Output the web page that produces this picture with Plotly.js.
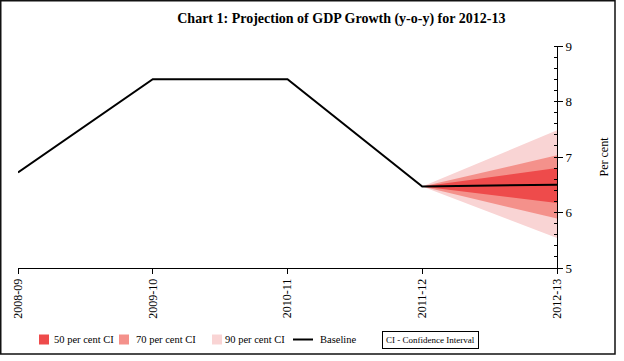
<!DOCTYPE html>
<html>
<head>
<meta charset="utf-8">
<script src="https://cdn.plot.ly/plotly-3.0.1.min.js"></script>
<style>
  html, body { margin: 0; padding: 0; background: #fff; }
  #chart { width: 624px; height: 361px; }
</style>
</head>
<body>
<div id="chart"></div>
<script>
// ---- data ----
var categories = ['2008-09', '2009-10', '2010-11', '2011-12', '2012-13'];
var baseline = [6.72, 8.4, 8.4, 6.47, 6.5];

var fanX = ['2011-12', '2012-13'];
var ci90Upper = [6.47, 7.48];
var ci90Lower = [6.47, 5.54];
var ci70Upper = [6.47, 7.03];
var ci70Lower = [6.47, 5.89];
var ci50Upper = [6.47, 6.80];
var ci50Lower = [6.47, 6.17];

var yTickVals = [5, 6, 7, 8, 9];
var legendLabels = ['50 per cent CI', '70 per cent CI', '90 per cent CI', 'Baseline'];
var noteText = 'CI - Confidence Interval';
var titleText = 'Chart 1: Projection of GDP Growth (y-o-y) for 2012-13';
var yTitle = 'Per cent';

// ---- styling ----
var col50 = '#ee4b4b';
var col70 = '#f4918b';
var col90 = '#f9d4d4';
var FONT = 'Liberation Serif, Times New Roman, serif';

// plot-area geometry (pixels) used only for placing the legend/frame decorations
var ML = 18, MR = 67, MT = 46, MB = 93, W = 624, H = 361;
var PW = W - ML - MR, PH = H - MT - MB;
function px(x) { return (x - ML) / PW; }
function py(y) { return (H - MB - y) / PH; }

function band(upper, lower) {
  return {
    x: fanX.concat(fanX.slice().reverse()),
    y: upper.concat(lower.slice().reverse())
  };
}

var b90 = band(ci90Upper, ci90Lower);
var b70 = band(ci70Upper, ci70Lower);
var b50 = band(ci50Upper, ci50Lower);

var traces = [
  { x: b90.x, y: b90.y, type: 'scatter', mode: 'none', fill: 'toself', fillcolor: col90, name: legendLabels[2], showlegend: false, hoverinfo: 'skip' },
  { x: b70.x, y: b70.y, type: 'scatter', mode: 'none', fill: 'toself', fillcolor: col70, name: legendLabels[1], showlegend: false, hoverinfo: 'skip' },
  { x: b50.x, y: b50.y, type: 'scatter', mode: 'none', fill: 'toself', fillcolor: col50, name: legendLabels[0], showlegend: false, hoverinfo: 'skip' },
  { x: categories, y: baseline, type: 'scatter', mode: 'lines', name: legendLabels[3], line: { color: '#000', width: 2 }, showlegend: false }
];

// legend drawn as shapes + annotations for exact placement
var legendY = 339.5;
var swatches = [
  { x0: 39, color: col50, textX: 52, label: legendLabels[0] },
  { x0: 119, color: col70, textX: 134, label: legendLabels[1] },
  { x0: 212, color: col90, textX: 223, label: legendLabels[2] }
];

var shapes = [
  {
    type: 'rect', xref: 'paper', yref: 'paper',
    x0: px(0.75), x1: px(615), y0: py(354), y1: py(0.75),
    line: { color: '#111', width: 1.5 }, fillcolor: 'rgba(0,0,0,0)', layer: 'below'
  }
];
var annotations = [];

swatches.forEach(function (s) {
  shapes.push({
    type: 'rect', xref: 'paper', yref: 'paper',
    x0: px(s.x0), x1: px(s.x0 + 10), y0: py(legendY + 5), y1: py(legendY - 5),
    line: { width: 0 }, fillcolor: s.color
  });
  annotations.push({
    xref: 'paper', yref: 'paper', x: px(s.textX), y: py(legendY),
    xanchor: 'left', yanchor: 'middle', showarrow: false,
    text: s.label, font: { family: FONT, size: 10.5, color: '#000' }
  });
});
shapes.push({
  type: 'line', xref: 'paper', yref: 'paper',
  x0: px(293), x1: px(313), y0: py(legendY), y1: py(legendY),
  line: { color: '#000', width: 2 }
});
annotations.push({
  xref: 'paper', yref: 'paper', x: px(318), y: py(legendY),
  xanchor: 'left', yanchor: 'middle', showarrow: false,
  text: legendLabels[3], font: { family: FONT, size: 10.5, color: '#000' }
});
annotations.push({
  xref: 'paper', yref: 'paper',
  x: px(430.5), y: py(legendY), xanchor: 'center', yanchor: 'middle',
  text: noteText, showarrow: false,
  font: { family: FONT, size: 9, color: '#000' },
  bordercolor: '#000', borderwidth: 1, borderpad: 3, bgcolor: '#fff'
});

var layout = {
  width: W,
  height: H,
  margin: { l: ML, r: MR, t: MT, b: MB },
  paper_bgcolor: '#fff',
  plot_bgcolor: '#fff',
  font: { family: FONT, color: '#000', size: 12 },
  title: {
    text: '<b>' + titleText + '</b>',
    x: 0.547, xanchor: 'center',
    y: 0.95, yanchor: 'middle',
    font: { family: FONT, size: 14, color: '#000' }
  },
  xaxis: {
    type: 'category',
    categoryorder: 'array',
    categoryarray: categories,
    range: [0, 4],
    showline: true, linecolor: '#000', linewidth: 1,
    ticks: 'outside', ticklen: 5, tickcolor: '#000',
    tickangle: -90,
    tickfont: { family: FONT, size: 12, color: '#000' },
    showgrid: false, zeroline: false, fixedrange: true
  },
  yaxis: {
    side: 'right',
    range: [5, 9],
    tickvals: yTickVals,
    showline: true, linecolor: '#000', linewidth: 1,
    ticks: 'outside', ticklen: 5, tickcolor: '#000',
    minor: { dtick: 0.2, ticks: 'inside', ticklen: 3, tickcolor: '#000', showgrid: false },
    tickfont: { family: FONT, size: 13, color: '#000' },
    showgrid: false, zeroline: false, fixedrange: true,
    title: { text: yTitle, font: { family: FONT, size: 12, color: '#000' }, standoff: 28 }
  },
  showlegend: false,
  annotations: annotations,
  shapes: shapes
};

Plotly.newPlot('chart', traces, layout, { displayModeBar: false, staticPlot: true });
</script>
</body>
</html>
